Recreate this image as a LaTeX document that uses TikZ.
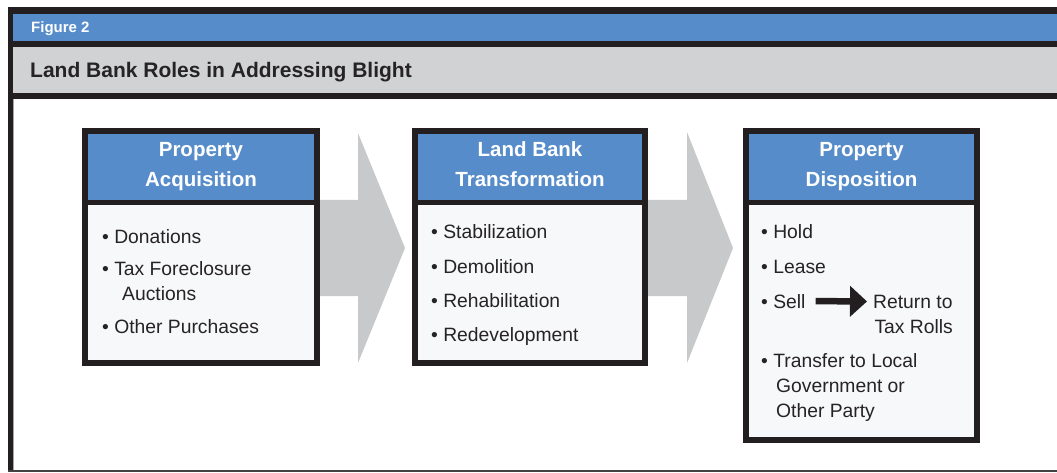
\documentclass[tikz,border=0pt]{standalone}
\usepackage{fontspec}
\setmainfont{Liberation Sans}
\usetikzlibrary{arrows.meta,calc}
\definecolor{hdrblue}{HTML}{578CCB}
\definecolor{bandgray}{HTML}{D1D2D4}
\definecolor{chevgray}{HTML}{C8C9CB}
\definecolor{frameblk}{HTML}{231F20}
\definecolor{bodyfill}{HTML}{F7F8FA}
\definecolor{txt}{HTML}{262324}
\begin{document}
\begin{tikzpicture}[x=1pt,y=-1pt,
  stagebox/.style={draw=frameblk, line width=6pt, fill=bodyfill, inner sep=0pt,
    path picture={
      \fill[hdrblue] (path picture bounding box.north west) rectangle ([yshift=-71.5pt]path picture bounding box.north east);
      \draw[frameblk, line width=5pt] ([yshift=-71.5pt]path picture bounding box.north west) -- ([yshift=-71.5pt]path picture bounding box.north east);
    }},
  hdrtext/.style={text=white, font=\fontsize{20.5}{24}\selectfont\bfseries, anchor=base, inner sep=0pt},
  item/.style={text=txt, font=\fontsize{19.3}{23}\selectfont, anchor=base west, inner sep=0pt},
  chev/.style={fill=chevgray},
  sellarrow/.style={draw=frameblk, line width=6.5pt, -{Triangle[length=17pt 0 0, width=30pt 0 0]}}
]
\useasboundingbox (0,0) rectangle (1057,473);
\fill[white] (0,0) rectangle (1057,473);

% outer frame
\fill[frameblk] (8,7) rectangle (1057,14);
\fill[hdrblue] (13,14) rectangle (1057,41);
\fill[frameblk] (8,41) rectangle (1057,47);
\fill[bandgray] (13,47) rectangle (1057,93);
\fill[frameblk] (8,93) rectangle (1057,99);
\fill[frameblk] (8,7) rectangle (13,472);
\draw[gray!70, line width=0.8pt] (13.6,99) -- (13.6,470.5);
\draw[frameblk!85, line width=1.6pt] (8,471.2) -- (1057,471.2);

\node[anchor=base west, inner sep=0pt, text=white, font=\fontsize{15}{18}\selectfont\bfseries] (fig) at (31,33) {Figure 2};
\node[anchor=base west, inner sep=0pt, text=txt, font=\fontsize{21}{25}\selectfont\bfseries] (title) at (30,78) {Land Bank Roles in Addressing Blight};

% chevrons between stages
\fill[chev] (300,200) -- (358,200) -- (358,133) -- (405,248) -- (358,363) -- (358,296) -- (300,296) -- cycle;
\fill[chev] (630,200) -- (687,200) -- (687,132) -- (733,248) -- (687,363) -- (687,296) -- (630,296) -- cycle;

% stage boxes
\node[stagebox, minimum width=232pt, minimum height=232pt] (b1) at (201,247) {};
\node[stagebox, minimum width=230pt, minimum height=232pt] (b2) at (530,247) {};
\node[stagebox, minimum width=231pt, minimum height=309pt] (b3) at (861.5,285.5) {};

% headers
\node[hdrtext] (h1a) at (201,157) {Property};
\node[hdrtext] (h1b) at (201,187) {Acquisition};
\node[hdrtext] (h2a) at (530,157) {Land Bank};
\node[hdrtext] (h2b) at (530,187) {Transformation};
\node[hdrtext] (h3a) at (861.5,157) {Property};
\node[hdrtext] (h3b) at (861.5,187) {Disposition};

% box 1 items
\node[item] (a1) at (102,243) {• Donations};
\node[item] (a2) at (102,275) {• Tax Foreclosure};
\node[item] (a3) at (122,300) {Auctions};
\node[item] (a4) at (102,333) {• Other Purchases};

% box 2 items
\node[item] (t1) at (431,238) {• Stabilization};
\node[item] (t2) at (431,273) {• Demolition};
\node[item] (t3) at (431,307) {• Rehabilitation};
\node[item] (t4) at (431,341) {• Redevelopment};

% box 3 items
\node[item] (d1) at (761,238) {• Hold};
\node[item] (d2) at (761,273) {• Lease};
\node[item] (sell) at (761,308) {• Sell};
\node[item] (ret) at (873,308) {Return to};
\node[item, anchor=base east] (ret2) at (953,333) {Tax Rolls};
\node[item] (d4) at (761,367) {• Transfer to Local};
\node[item] (d5) at (776,392) {Government or};
\node[item] (d6) at (776,417) {Other Party};

\draw[sellarrow] ([xshift=10pt]sell.east) -- ([xshift=-6pt]ret.west);
\end{tikzpicture}
\end{document}
